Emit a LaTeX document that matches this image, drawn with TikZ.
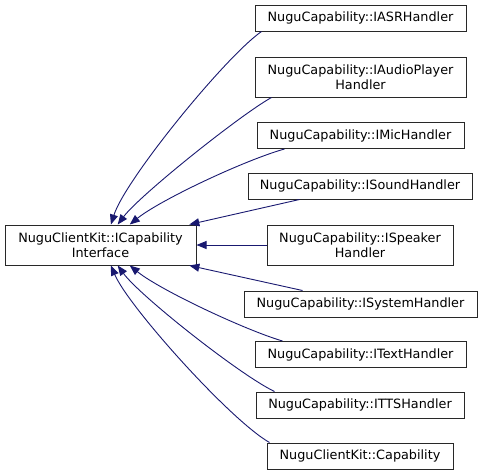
\documentclass[tikz,border=0pt]{standalone}
\usepackage{fontspec}
\setmainfont{DejaVu Sans}
\usepackage{xcolor}
\usetikzlibrary{arrows.meta}

\definecolor{edgeblue}{RGB}{25,25,112}
\definecolor{boxline}{RGB}{40,40,40}

\tikzset{
	classbox/.style={draw=boxline, line width=1pt, fill=white, align=center,
		inner sep=0pt, font=\fontsize{12.8}{14.5}\selectfont},
	inherit/.style={draw=edgeblue, line width=0.9pt,
		-{Triangle[length=10pt,width=8pt]}}
}

\begin{document}
\begin{tikzpicture}[x=1pt, y=-1pt]
		\useasboundingbox (0,0) rectangle (483,475);

		% Base class
		\node[classbox, minimum width=191, minimum height=40] (iface) at (100.5,245)
			{NuguClientKit::ICapability\\Interface};

		% Derived classes
		\node[classbox, minimum width=211, minimum height=26] (asr) at (360.5,18)
			{NuguCapability::IASRHandler};
		\node[classbox, minimum width=211, minimum height=40] (audio) at (360.5,77)
			{NuguCapability::IAudioPlayer\\Handler};
		\node[classbox, minimum width=207, minimum height=26] (mic) at (360.5,135.5)
			{NuguCapability::IMicHandler};
		\node[classbox, minimum width=224, minimum height=26] (sound) at (360,186)
			{NuguCapability::ISoundHandler};
		\node[classbox, minimum width=186, minimum height=40] (speaker) at (360,245)
			{NuguCapability::ISpeaker\\Handler};
		\node[classbox, minimum width=233, minimum height=26] (system) at (360.5,304)
			{NuguCapability::ISystemHandler};
		\node[classbox, minimum width=211, minimum height=26] (text) at (360.5,354.5)
			{NuguCapability::ITextHandler};
		\node[classbox, minimum width=208, minimum height=26] (tts) at (360,405)
			{NuguCapability::ITTSHandler};
		\node[classbox, minimum width=186, minimum height=26] (capability) at (360,456)
			{NuguClientKit::Capability};

		% Inheritance arrows, upper half
		\draw[inherit] ([xshift=7pt]asr.south west) .. controls (225,57) and (125,180) .. (iface.63);
		\draw[inherit] ([xshift=17pt]audio.south west) .. controls (240,115) and (140,195) .. (iface.50);
		\draw[inherit] ([xshift=28pt]mic.south west) .. controls (245,160) and (160,200) .. (iface.35);
		\draw[inherit] ([xshift=52pt]sound.south west) -- (iface.13);

		% Straight one
		\draw[inherit] (speaker) -- (iface);

		% Inheritance arrows, lower half
		\draw[inherit] ([xshift=59pt]system.north west) -- (iface.-13);
		\draw[inherit] ([xshift=28pt]text.north west) .. controls (245,330) and (160,290) .. (iface.-35);
		\draw[inherit] ([xshift=19pt]tts.north west) .. controls (240,375) and (140,296) .. (iface.-50);
		\draw[inherit] ([xshift=3pt]capability.north west) .. controls (230,420) and (128,306) .. (iface.-63);
	\end{tikzpicture}
\end{document}
